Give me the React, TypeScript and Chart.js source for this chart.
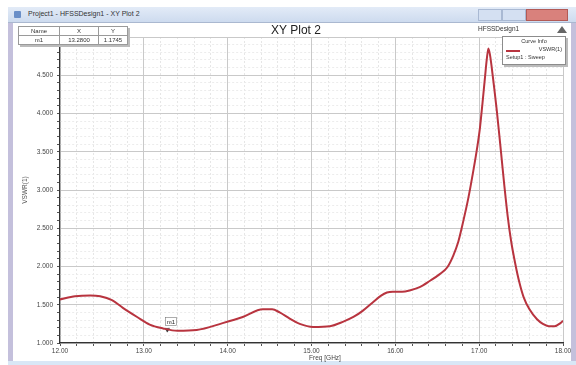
import { useEffect, useRef } from "react";
import { Chart, registerables } from "chart.js";

Chart.register(...registerables);

// VSWR sweep, 12-18 GHz
const freqGHz = [
  12.0, 12.18, 12.36, 12.48, 12.62, 12.75, 12.92, 13.07, 13.23, 13.4, 13.63, 13.94,
  14.18, 14.42, 14.53, 14.62, 14.74, 14.86, 15.02, 15.22, 15.38, 15.5, 15.61, 15.73,
  15.83, 15.9, 15.97, 16.08, 16.18, 16.29, 16.41, 16.53, 16.62, 16.69, 16.75, 16.81,
  16.87, 16.93, 16.98, 17.01, 17.04, 17.07, 17.09, 17.11, 17.13, 17.15, 17.18, 17.21,
  17.24, 17.27, 17.3, 17.34, 17.38, 17.43, 17.48, 17.53, 17.6, 17.69, 17.76, 17.83,
  17.9, 17.97, 18.0,
];
const vswr = [
  1.57, 1.61, 1.62, 1.61, 1.56, 1.46, 1.34, 1.24, 1.19, 1.16, 1.17, 1.26,
  1.34, 1.44, 1.44, 1.4, 1.32, 1.25, 1.21, 1.22, 1.28, 1.34, 1.42, 1.53,
  1.62, 1.66, 1.67, 1.67, 1.69, 1.73, 1.81, 1.9, 1.99, 2.14, 2.32, 2.59,
  2.89, 3.25, 3.58, 3.82, 4.14, 4.48, 4.7, 4.85, 4.76, 4.6, 4.33, 4.04,
  3.72, 3.39, 3.06, 2.66, 2.34, 2.04, 1.79, 1.6, 1.44, 1.31, 1.25, 1.22,
  1.22, 1.26, 1.29,
];

const markerName = "m1";
const markerFreq = 13.28;
const markerVswr = 1.1745;

const xMajorValues = [12, 13, 14, 15, 16, 17, 18];
const xTickLabels = ["12.00", "13.00", "14.00", "15.00", "16.00", "17.00", "18.00"];
const yMajorValues = [1, 1.5, 2, 2.5, 3, 3.5, 4, 4.5];
const yTickLabels = ["1.000", "1.500", "2.000", "2.500", "3.000", "3.500", "4.000", "4.500"];

const FONT = "'Liberation Sans', Arial, sans-serif";

const near = (a: number, b: number) => Math.abs(a - b) < 1e-6;

const markerLabelPlugin = {
  id: "markerLabel",
  afterDatasetsDraw(chart: any) {
    const meta = chart.getDatasetMeta(1);
    const pt = meta?.data?.[0];
    if (!pt) return;
    const ctx = chart.ctx;
    ctx.save();
    ctx.font = `6px ${FONT}`;
    const w = ctx.measureText(markerName).width + 3;
    const bx = pt.x - 2;
    const by = pt.y - 12;
    ctx.fillStyle = "rgba(255,255,255,0.85)";
    ctx.fillRect(bx, by, w, 8);
    ctx.strokeStyle = "#777";
    ctx.lineWidth = 0.6;
    ctx.strokeRect(bx, by, w, 8);
    ctx.fillStyle = "#222";
    ctx.textBaseline = "middle";
    ctx.fillText(markerName, bx + 1.5, by + 4.2);
    ctx.restore();
  },
};

function VswrChart() {
  const canvasRef = useRef<HTMLCanvasElement | null>(null);

  useEffect(() => {
    const canvas = canvasRef.current;
    if (!canvas) return;
    const chart = new Chart(canvas, {
      type: "line",
      data: {
        datasets: [
          {
            label: "VSWR(1)",
            data: freqGHz.map((f, i) => ({ x: f, y: vswr[i] })),
            borderColor: "#b8343f",
            borderWidth: 2,
            pointRadius: 0,
            cubicInterpolationMode: "monotone",
            fill: false,
          },
          {
            label: markerName,
            data: [{ x: markerFreq, y: markerVswr }],
            showLine: false,
            pointStyle: "triangle",
            rotation: 180,
            pointRadius: 2.5,
            backgroundColor: "#333",
            borderColor: "#333",
            borderWidth: 0.5,
          },
        ],
      },
      options: {
        animation: false,
        responsive: false,
        maintainAspectRatio: false,
        layout: { padding: { top: 37, right: 13, bottom: 0, left: 0 } },
        plugins: {
          legend: { display: false },
          tooltip: { enabled: false },
          title: { display: false },
        },
        scales: {
          x: {
            type: "linear",
            min: 12,
            max: 18,
            afterFit: (scale: any) => {
              scale.height = 22;
            },
            ticks: {
              stepSize: 0.2,
              autoSkip: false,
              maxRotation: 0,
              padding: 1,
              color: "#444",
              font: { size: 6.5, family: FONT },
              callback: (v: any) => {
                const i = xMajorValues.findIndex((m) => near(m, Number(v)));
                return i >= 0 ? xTickLabels[i] : "";
              },
            },
            grid: {
              color: (c: any) =>
                xMajorValues.some((m) => near(m, c.tick?.value)) ? "#c9c9c9" : "#e6e6e6",
              lineWidth: 1,
              tickLength: 3,
              tickColor: "#555",
            },
            border: {
              display: true,
              color: "#333",
              width: 1.2,
              dash: (c: any) =>
                xMajorValues.some((m) => near(m, c.tick?.value)) ? [] : [2, 2],
            },
            title: { display: false },
          },
          y: {
            type: "linear",
            min: 1,
            max: 5,
            afterFit: (scale: any) => {
              scale.width = 60;
            },
            ticks: {
              stepSize: 0.1,
              autoSkip: false,
              padding: 4,
              color: "#444",
              font: { size: 6.5, family: FONT },
              callback: (v: any) => {
                const i = yMajorValues.findIndex((m) => near(m, Number(v)));
                return i >= 0 ? yTickLabels[i] : "";
              },
            },
            grid: {
              color: (c: any) =>
                yMajorValues.some((m) => near(m, c.tick?.value)) || near(5, c.tick?.value)
                  ? "#c9c9c9"
                  : "#ececec",
              lineWidth: 1,
              tickLength: 3,
              tickColor: "#555",
            },
            border: {
              display: true,
              color: "#333",
              width: 1.2,
              dash: (c: any) =>
                yMajorValues.some((m) => near(m, c.tick?.value)) || near(5, c.tick?.value)
                  ? []
                  : [2, 2],
            },
            title: {
              display: true,
              text: "VSWR(1)",
              color: "#555",
              font: { size: 6.5, family: FONT },
              padding: { top: 21, bottom: 0 },
            },
          },
        },
      },
      plugins: [markerLabelPlugin],
    } as any);
    return () => chart.destroy();
  }, []);

  return (
    <canvas
      ref={canvasRef}
      width={576}
      height={365}
      style={{ position: "absolute", left: 0, top: 0, width: 576, height: 365 }}
    />
  );
}

const cell: React.CSSProperties = {
  border: "1px solid #9a9a9a",
  padding: "0 2px",
  textAlign: "center",
  height: 8,
  lineHeight: "8px",
};

export default function App() {
  return (
    <div
      style={{
        position: "fixed",
        left: 0,
        top: 0,
        width: 576,
        height: 365,
        background: "#ffffff",
        overflow: "hidden",
        fontFamily: FONT,
      }}
    >
      {/* window frame */}
      <div style={{ position: "absolute", left: 8, top: 7, width: 5, height: 358, background: "#c4c0dc" }} />
      <div style={{ position: "absolute", right: 0, top: 7, width: 5, height: 358, background: "#c4c0dc" }} />
      <div
        style={{
          position: "absolute",
          left: 8,
          top: 7,
          width: 568,
          height: 15,
          background: "linear-gradient(#e3ebf7, #cddbef)",
          borderBottom: "1px solid #aab8d0",
        }}
      >
        <div
          style={{
            position: "absolute",
            left: 6,
            top: 4,
            width: 7,
            height: 7,
            background: "#6a8fc8",
            borderRadius: 1,
          }}
        />
        <div style={{ position: "absolute", left: 20, top: 3, fontSize: 7, color: "#333", whiteSpace: "nowrap" }}>
          Project1 - HFSSDesign1 - XY Plot 2
        </div>
        <div style={{ position: "absolute", left: 470, top: 2, width: 22, height: 10, background: "#d4e0f2", border: "1px solid #a9b9d3" }} />
        <div style={{ position: "absolute", left: 494, top: 2, width: 22, height: 10, background: "#d4e0f2", border: "1px solid #a9b9d3" }} />
        <div style={{ position: "absolute", left: 518, top: 2, width: 40, height: 10, background: "#d9817c", border: "1px solid #b25a56" }} />
      </div>
      <div style={{ position: "absolute", left: 8, top: 361, width: 568, height: 4, background: "#d9e7f6" }} />

      <VswrChart />

      {/* plot heading */}
      <div
        style={{
          position: "absolute",
          left: 196,
          width: 200,
          top: 23,
          textAlign: "center",
          fontSize: 12,
          color: "#222",
        }}
      >
        XY Plot 2
      </div>
      <div style={{ position: "absolute", left: 478, top: 25, fontSize: 6.5, color: "#333" }}>HFSSDesign1</div>
      <div
        style={{
          position: "absolute",
          left: 557,
          top: 26,
          width: 0,
          height: 0,
          borderLeft: "5px solid transparent",
          borderRight: "5px solid transparent",
          borderBottom: "7px solid #666",
        }}
      />

      {/* x axis title */}
      <div
        style={{
          position: "absolute",
          left: 285,
          width: 80,
          top: 354,
          textAlign: "center",
          fontSize: 6.5,
          lineHeight: "7px",
          color: "#444",
        }}
      >
        Freq [GHz]
      </div>

      {/* marker table */}
      <table
        style={{
          position: "absolute",
          left: 18,
          top: 26,
          borderCollapse: "collapse",
          fontSize: 6,
          color: "#333",
          background: "#fff",
          boxShadow: "2px 2px 0 #bbb",
        }}
      >
        <tbody>
          <tr>
            <td style={{ ...cell, width: 36 }}>Name</td>
            <td style={{ ...cell, width: 34 }}>X</td>
            <td style={{ ...cell, width: 24 }}>Y</td>
          </tr>
          <tr>
            <td style={cell}>{markerName}</td>
            <td style={cell}>{markerFreq.toFixed(4)}</td>
            <td style={cell}>{markerVswr.toFixed(4)}</td>
          </tr>
        </tbody>
      </table>

      {/* curve info box */}
      <div
        style={{
          position: "absolute",
          left: 502,
          top: 36,
          width: 62,
          height: 27,
          background: "#fff",
          border: "1px solid #8c8c8c",
          boxShadow: "2px 2px 0 #bbb",
          fontSize: 5.5,
          color: "#333",
        }}
      >
        <div style={{ textAlign: "center", marginTop: 1, height: 8 }}>Curve Info</div>
        <div style={{ position: "relative", height: 8 }}>
          <div style={{ position: "absolute", left: 3, top: 4, width: 14, height: 1.5, background: "#b8343f" }} />
          <div style={{ position: "absolute", right: 3, top: 0 }}>VSWR(1)</div>
        </div>
        <div style={{ height: 8, paddingLeft: 3 }}>Setup1 : Sweep</div>
      </div>
    </div>
  );
}
